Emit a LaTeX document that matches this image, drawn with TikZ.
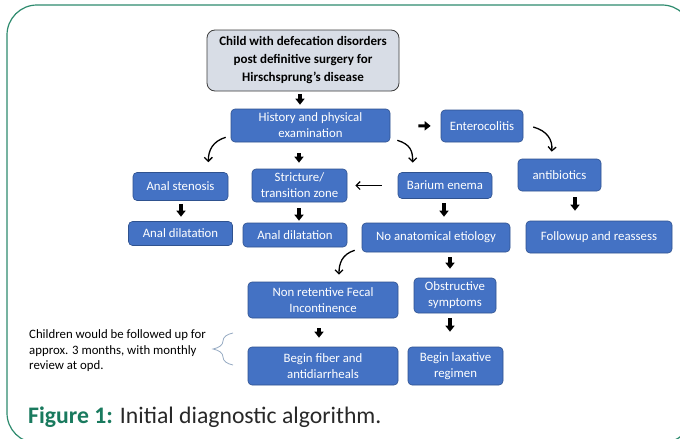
\documentclass[tikz,border=0pt]{standalone}
\usepackage{fontspec}
\setmainfont{Carlito}
\usetikzlibrary{arrows.meta,calc,decorations.pathreplacing}

\definecolor{boxblue}{RGB}{68,114,196}
\definecolor{boxedge}{RGB}{47,82,143}
\definecolor{topfill}{RGB}{216,221,230}
\definecolor{topedge}{RGB}{60,60,60}
\definecolor{framegreen}{RGB}{46,139,110}
\definecolor{capgreen}{RGB}{25,122,94}
\definecolor{capgrey}{RGB}{40,40,40}
\definecolor{bracegrey}{RGB}{150,170,195}

\begin{document}
\begin{tikzpicture}[x=1pt,y=1pt,yscale=-1,
    bluebox/.style={draw=boxedge,line width=0.6pt,fill=boxblue,rounded corners=4pt,text=white,align=center,inner sep=0pt,font=\fontsize{12.8}{16}\selectfont},
    topbox/.style={draw=topedge,line width=0.8pt,fill=topfill,rounded corners=8pt,align=center,inner sep=0pt,font=\fontsize{13}{18}\selectfont\bfseries},
    blk/.style={line width=3.4pt,-{Triangle[width=9pt,length=6pt]}},
    bendarrow/.style={line width=1.3pt,-{Straight Barb[length=4pt,width=8pt]}},
    flatarrow/.style={line width=1.2pt,-{Straight Barb[length=4pt,width=8pt]}}
  ]
    \useasboundingbox (0,0) rectangle (680,439);

    %Shape: Frame
    \draw [framegreen,line width=1.2pt,rounded corners=30pt,fill=white] (7,5) rectangle (692,443);

    % Boxes
    \node [topbox,minimum width=192,minimum height=61] (top) at (303,60.5) {Child with defecation disorders\\post definitive surgery for\\Hirschsprung’s disease};
    \node [bluebox,minimum width=159,minimum height=33] (hist) at (310.5,125.5) {History and physical\\examination};
    \node [bluebox,minimum width=82,minimum height=32] (entero) at (482,126) {Enterocolitis};
    \node [bluebox,minimum width=83,minimum height=32] (anti) at (559.5,175) {antibiotics};
    \node [bluebox,minimum width=146,minimum height=32] (follow) at (599,237) {Followup and reassess};
    \node [bluebox,minimum width=95,minimum height=28] (sten) at (180.5,186.5) {Anal stenosis};
    \node [bluebox,minimum width=104,minimum height=24] (dilL) at (180.5,233.5) {Anal dilatation};
    \node [bluebox,minimum width=95,minimum height=33] (strict) at (299.5,185.5) {Stricture/\\transition zone};
    \node [bluebox,minimum width=104,minimum height=24] (dilM) at (295,235) {Anal dilatation};
    \node [bluebox,minimum width=94,minimum height=26] (barium) at (445,185.5) {Barium enema};
    \node [bluebox,minimum width=148,minimum height=29] (noanat) at (436,237.5) {No anatomical etiology};
    \node [bluebox,minimum width=150,minimum height=36] (nonret) at (323,300) {Non retentive Fecal\\Incontinence};
    \node [bluebox,minimum width=82,minimum height=35] (obst) at (455,295.5) {Obstructive\\symptoms};
    \node [bluebox,minimum width=150,minimum height=38] (fiber) at (323,366) {Begin fiber and\\antidiarrheals};
    \node [bluebox,minimum width=95,minimum height=38] (lax) at (455.5,366) {Begin laxative\\regimen};

    % Block arrows
    \draw [blk,shorten <=3pt,shorten >=4pt] (top.south -| 300,0) -- (hist.north -| 300,0);
    \draw [blk,shorten <=11pt,shorten >=6pt] (hist.south -| 299,0) -- (strict.north -| 299,0);
    \draw [blk,shorten <=3pt,shorten >=4.5pt] (sten.south -| 181,0) -- (dilL.north -| 181,0);
    \draw [blk,shorten <=6pt,shorten >=2pt] (strict.south -| 299,0) -- (dilM.north -| 299,0);
    \draw [blk,shorten <=4.5pt,shorten >=6pt] (barium.south -| 444,0) -- (noanat.north -| 444,0);
    \draw [blk,shorten <=6pt,shorten >=10pt] (anti.south -| 575,0) -- (follow.north -| 575,0);
    \draw [blk,shorten <=5pt,shorten >=9pt] (noanat.south -| 450,0) -- (obst.north -| 450,0);
    \draw [blk,shorten <=5pt,shorten >=15pt] (obst.south -| 450,0) -- (lax.north -| 450,0);
    \draw [blk,shorten <=10pt,shorten >=9pt] (nonret.south -| 319,0) -- (fiber.north -| 319,0);
    \draw [blk,line width=3pt,shorten <=28pt,shorten >=10pt] (hist.east) -- (entero.west);

    % Thin arrows
    \draw [flatarrow,shorten <=16pt,shorten >=8pt] (barium.west) -- (strict.east);
    \draw [bendarrow] ($(hist.south west)+(-5,-5)$) .. controls +(-13,4) and +(0,-12) .. ($(sten.north east)+(-20,-10)$);
    \draw [bendarrow] ($(hist.south east)+(7,-2)$) .. controls +(13,4) and +(0,-12) .. ($(barium.north west)+(15,-9.5)$);
    \draw [bendarrow] ($(entero.east)+(10,1)$) .. controls +(14,4) and +(1,-12) .. ($(anti.north west)+(34,-7)$);
    \draw [bendarrow] ($(noanat.south west)+(-7,-2)$) .. controls +(-13,4) and +(0,-11) .. ($(nonret.north)+(16,-7)$);

    % Text Node
    \node [anchor=west,align=left,inner sep=0pt,font=\fontsize{12.8}{15.5}\selectfont] (note) at (29,351) {Children would be followed up for\\approx. 3 months, with monthly\\review at opd.};
    \draw [bracegrey,line width=0.8pt,decorate,decoration={brace,amplitude=20pt}] (233,365) -- (233,333);

    % Caption
    \node [anchor=base west,inner sep=0pt,font=\fontsize{23.7}{28}\selectfont,text=capgrey] (caption) at (28,423) {\textcolor{capgreen}{\bfseries Figure 1:} Initial diagnostic algorithm.};
\end{tikzpicture}
\end{document}
